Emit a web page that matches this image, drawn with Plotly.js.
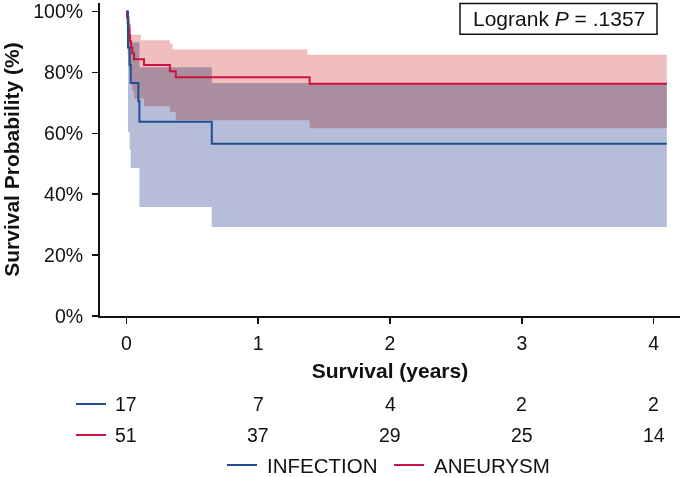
<!DOCTYPE html>
<html>
<head>
<meta charset="utf-8">
<script src="https://cdn.plot.ly/plotly-3.0.1.min.js"></script>
<style>
  html, body { margin: 0; padding: 0; background: #fff; }
  #chart { width: 680px; height: 477px; }
  .js-fill { mix-blend-mode: multiply; }
</style>
</head>
<body>
<div id="chart"></div>
<script>
// ---- Data ----
// INFECTION (blue)
const tInfection   = [0, 0.012, 0.025, 0.033, 0.091, 0.099, 0.648, 4.1];
const sInfection   = [100, 88.2, 82.4, 76.5, 70.5, 63.8, 56.6, 56.6];
const loInfection  = [100, 60.4, 54.6, 48.6, 48.6, 35.8, 29.2, 29.2];
const hiInfection  = [100, 98.5, 95.5, 89.9, 89.9, 81.7, 76.5, 76.5];

// ANEURYSM (red)
const tAneurysm    = [0, 0.005, 0.01, 0.016, 0.022, 0.028, 0.035, 0.045, 0.058, 0.134, 0.33, 0.375, 1.39, 4.1];
const sAneurysm    = [100, 98.0, 96.1, 94.1, 92.2, 90.2, 88.2, 86.3, 84.3, 82.4, 80.4, 78.4, 76.3, 76.3];
const tAneurysmCI  = [0, 0.005, 0.01, 0.016, 0.022, 0.028, 0.035, 0.045, 0.058, 0.11, 0.134, 0.33, 0.35, 0.375, 1.373, 1.39, 4.1];
const hiAneurysm   = [100, 100, 99.5, 98.5, 97.5, 96.0, 92.4, 92.4, 92.4, 90.6, 90.6, 89.4, 87.5, 87.5, 85.8, 85.8, 85.8];
const loAneurysm   = [100, 89.0, 86.0, 83.5, 81.0, 78.5, 76.0, 74.0, 71.4, 71.4, 68.9, 67.0, 67.0, 64.3, 64.3, 61.7, 61.7];

// Numbers at risk
const riskYears     = [0, 1, 2, 3, 4];
const riskInfection = [17, 7, 4, 2, 2];
const riskAneurysm  = [51, 37, 29, 25, 14];

// Axis ticks
const xTicks = [0, 1, 2, 3, 4];
const yTicks = [0, 20, 40, 60, 80, 100];
const yTickLabels = ['0%', '20%', '40%', '60%', '80%', '100%'];

const seriesNames = ['INFECTION', 'ANEURYSM'];
const logrankText = 'Logrank <i>P</i> = .1357';

// ---- Styles ----
const blueLine = '#1d4f91';
const redLine  = '#cc1242';
const blueBand = 'rgb(181,189,216)';
const redBand  = 'rgb(240,190,188)';
const ink = '#111111';
const FONT = 'Liberation Sans, Arial, Helvetica, sans-serif';

const traces = [
  { x: tInfection, y: loInfection, mode: 'lines', line: { width: 0, shape: 'hv' }, hoverinfo: 'skip', showlegend: false },
  { x: tInfection, y: hiInfection, mode: 'lines', line: { width: 0, shape: 'hv' }, fill: 'tonexty', fillcolor: blueBand, hoverinfo: 'skip', showlegend: false },
  { x: tAneurysmCI, y: loAneurysm, mode: 'lines', line: { width: 0, shape: 'hv' }, hoverinfo: 'skip', showlegend: false },
  { x: tAneurysmCI, y: hiAneurysm, mode: 'lines', line: { width: 0, shape: 'hv' }, fill: 'tonexty', fillcolor: redBand, hoverinfo: 'skip', showlegend: false },
  { x: tAneurysm, y: sAneurysm, mode: 'lines', name: seriesNames[1], line: { color: redLine, width: 2, shape: 'hv' } },
  { x: tInfection, y: sInfection, mode: 'lines', name: seriesNames[0], line: { color: blueLine, width: 2, shape: 'hv' } }
];

// plot area in pixels: x 100..680, y 3..316
const plotL = 100, plotW = 580, plotT = 3, plotH = 313;
const px = v => (v - plotL) / plotW;
const py = v => (plotT + plotH - v) / plotH;

const annotations = [];
const shapes = [];

const rowY = [py(404), py(435)];
[riskInfection, riskAneurysm].forEach((row, r) => {
  row.forEach((n, i) => {
    annotations.push({
      x: riskYears[i], xref: 'x', y: rowY[r], yref: 'paper',
      text: String(n), showarrow: false, xanchor: 'center', yanchor: 'middle',
      font: { family: FONT, size: 19.5, color: ink }
    });
  });
  shapes.push({ type: 'line', xref: 'paper', yref: 'paper', x0: px(76), x1: px(106), y0: rowY[r], y1: rowY[r],
    line: { color: r === 0 ? blueLine : redLine, width: 2 } });
});

// legend
const legY = py(465);
shapes.push({ type: 'line', xref: 'paper', yref: 'paper', x0: px(227), x1: px(257), y0: legY, y1: legY, line: { color: blueLine, width: 2 } });
shapes.push({ type: 'line', xref: 'paper', yref: 'paper', x0: px(394), x1: px(424), y0: legY, y1: legY, line: { color: redLine, width: 2 } });
annotations.push({ x: px(265), xref: 'paper', y: legY, yref: 'paper', text: seriesNames[0], showarrow: false, xanchor: 'left', yanchor: 'middle', font: { family: FONT, size: 20.5, color: ink } });
annotations.push({ x: px(432), xref: 'paper', y: legY, yref: 'paper', text: seriesNames[1], showarrow: false, xanchor: 'left', yanchor: 'middle', font: { family: FONT, size: 20.5, color: ink } });

// logrank box
shapes.push({ type: 'rect', xref: 'paper', yref: 'paper', x0: px(460), x1: px(657), y0: py(34.3), y1: py(3.5),
  line: { color: ink, width: 1.5 }, fillcolor: 'white', layer: 'above' });
annotations.push({ x: px(558.5), xref: 'paper', y: py(18.8), yref: 'paper', text: logrankText, showarrow: false,
  xanchor: 'center', yanchor: 'middle', font: { family: FONT, size: 21, color: ink } });

const layout = {
  width: 680, height: 477,
  margin: { l: plotL, r: 680 - plotL - plotW, t: plotT, b: 477 - plotT - plotH, pad: 0 },
  paper_bgcolor: 'white', plot_bgcolor: 'white',
  font: { family: FONT, size: 19.5, color: ink },
  showlegend: false,
  xaxis: {
    range: [-0.2, 4.2], tickmode: 'array', tickvals: xTicks, ticktext: xTicks.map(String),
    showline: true, linewidth: 2, linecolor: ink, mirror: false,
    ticks: 'outside', ticklen: 6, tickwidth: 1.5, tickcolor: ink,
    showgrid: false, zeroline: false, ticklabelstandoff: 3,
    tickfont: { family: FONT, size: 19.5, color: ink },
    title: { text: 'Survival (years)', font: { family: FONT, size: 21, color: ink, weight: 'bold' }, standoff: 10 }
  },
  yaxis: {
    range: [0, 102.8], tickmode: 'array', tickvals: yTicks, ticktext: yTickLabels,
    showline: true, linewidth: 2, linecolor: ink,
    ticks: 'outside', ticklen: 6, tickwidth: 1.5, tickcolor: ink,
    showgrid: false, zeroline: false, ticklabelstandoff: 5,
    tickfont: { family: FONT, size: 19.5, color: ink },
    title: { text: 'Survival Probability (%)', font: { family: FONT, size: 21, color: ink, weight: 'bold' }, standoff: 8 }
  },
  annotations: annotations,
  shapes: shapes
};

Plotly.newPlot('chart', traces, layout, { displayModeBar: false, staticPlot: true });
</script>
</body>
</html>
